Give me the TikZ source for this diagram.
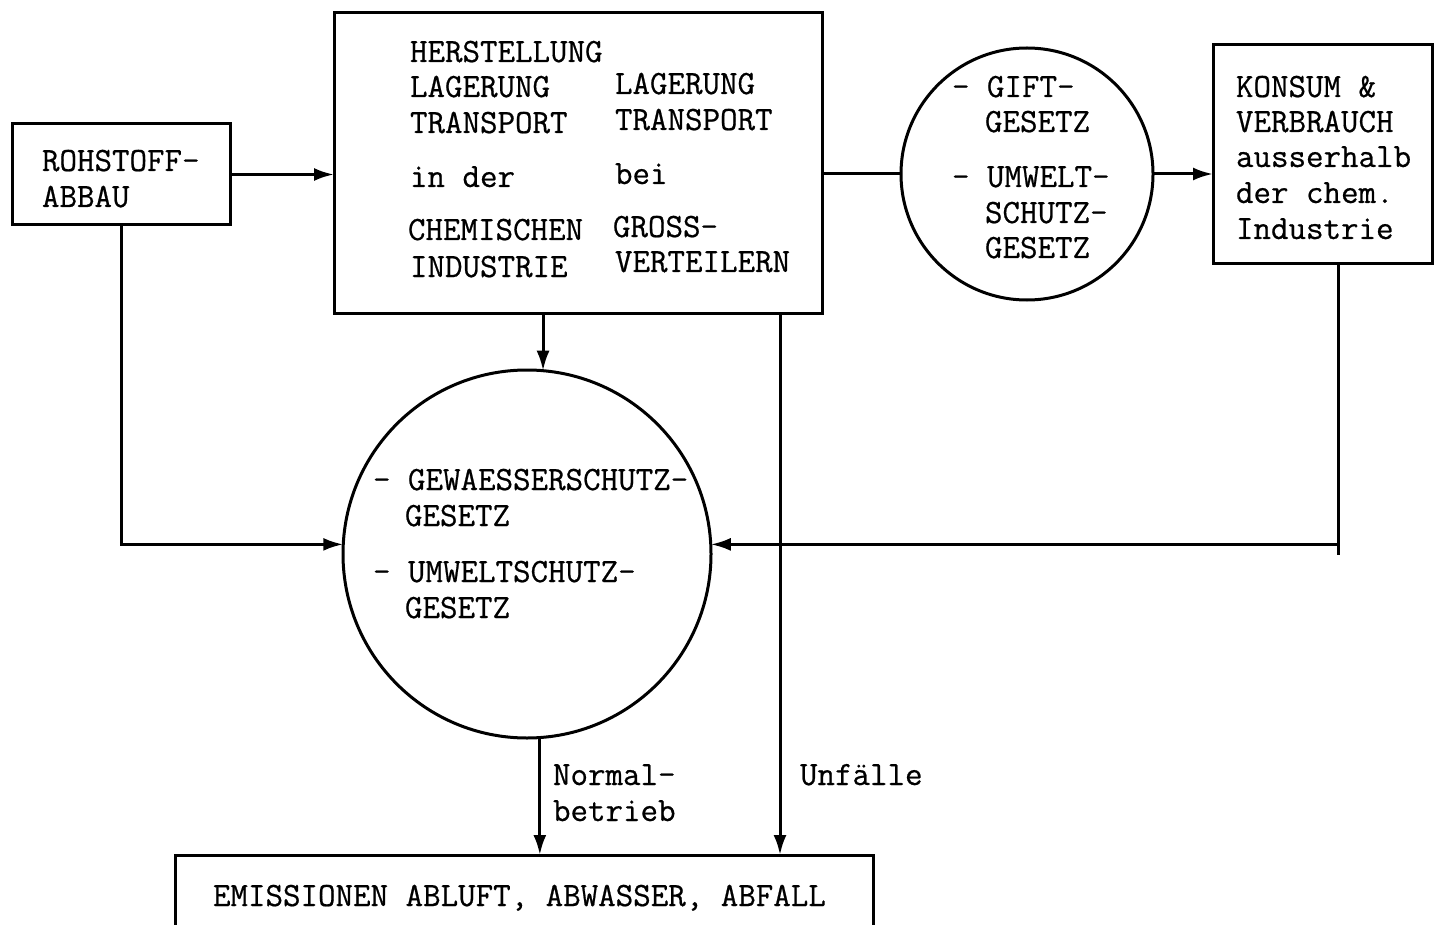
\documentclass[tikz,border=0pt]{standalone}
\usepackage{fontspec}
\newfontfamily\tw{Latin Modern Mono}[FakeBold=0.6]
\usetikzlibrary{arrows.meta}
\tikzset{
  line/.style={line width=3pt},
  arr/.style={line width=3pt,-{Latex[length=20pt,width=13pt]}},
  boxnode/.style={draw,line width=3pt,rectangle,inner sep=0pt,outer sep=0pt},
  circnode/.style={draw,line width=3pt,circle,inner sep=0pt,outer sep=0pt},
  txt/.style={anchor=base west,inner sep=0pt,outer sep=0pt,font=\tw\fontsize{34}{36}\selectfont}
}
\begin{document}
\begin{tikzpicture}[x=1pt,y=-1pt]
\useasboundingbox[fill=white] (0,0) rectangle (1439,925);

% boxes and circles
\node[boxnode,minimum width=218pt,minimum height=101pt] (rohstoff) at (121,174.5) {};
\node[boxnode,minimum width=488pt,minimum height=300pt] (main) at (578,163) {};
\node[boxnode,minimum width=219pt,minimum height=218pt] (konsum) at (1322.5,154) {};
\node[boxnode,minimum width=698pt,minimum height=90pt] (emission) at (524,900) {};
\node[circnode,minimum size=252pt] (gift) at (1027,174) {};
\node[circnode,minimum size=368pt] (big) at (527,554) {};

% texts
\node[txt] (t1) at (42,171) {ROHSTOFF-};
\node[txt] (t2) at (42,207) {ABBAU};

\node[txt] (m1) at (410,62) {HERSTELLUNG};
\node[txt] (m2) at (410,97) {LAGERUNG};
\node[txt] (m3) at (410,133) {TRANSPORT};
\node[txt] (m4) at (410,187) {in der};
\node[txt] (m5) at (408,240) {CHEMISCHEN};
\node[txt] (m6) at (410,277) {INDUSTRIE};
\node[txt] (r1) at (615,94) {LAGERUNG};
\node[txt] (r2) at (615,130) {TRANSPORT};
\node[txt] (r3) at (615,184) {bei};
\node[txt] (r4) at (613,237) {GROSS-};
\node[txt] (r5) at (615,272) {VERTEILERN};

\node[txt] (g1) at (952,97) {- GIFT-};
\node[txt] (g2) at (985,132) {GESETZ};
\node[txt] (g3) at (952,187) {- UMWELT-};
\node[txt] (g4) at (985,223) {SCHUTZ-};
\node[txt] (g5) at (985,258) {GESETZ};

\node[txt] (k1) at (1236,97) {KONSUM \&};
\node[txt] (k2) at (1236,132) {VERBRAUCH};
\node[txt] (k3) at (1236,167) {ausserhalb};
\node[txt] (k4) at (1236,203) {der chem.};
\node[txt] (k5) at (1236,239) {Industrie};

\node[txt] (b1) at (373,490) {- GEWAESSERSCHUTZ-};
\node[txt] (b2) at (405,526) {GESETZ};
\node[txt] (b3) at (373,582) {- UMWELTSCHUTZ-};
\node[txt] (b4) at (405,618) {GESETZ};

\node[txt] (n1) at (553,785) {Normal-};
\node[txt] (n2) at (553,821) {betrieb};
\node[txt] (u1) at (800,785) {Unfälle};

\node[txt] (e1) at (213,906) {EMISSIONEN ABLUFT, ABWASSER, ABFALL};

% helper coordinates
\coordinate (ux) at (780,0);
\coordinate (kx) at (1338,0);
\coordinate (kend) at (1338,555);

% connectors
\draw[arr] (rohstoff.east) -- (main.west |- rohstoff.east);
\draw[line] (main.east |- gift.west) -- (gift.west);
\draw[arr] (gift.east) -- (gift.east -| konsum.west);
\draw[arr] (rohstoff.south) |- (big.177);
\draw[arr] (main.south -| big.85.3) -- (big.85.3);
\draw[line] (konsum.south -| kx) -- (kend);
\draw[arr] (big.3 -| kx) -- (big.3);
\draw[arr] (main.south -| ux) -- (emission.north -| ux);
\draw[arr] (big.-86) -- (big.-86 |- emission.north);
\end{tikzpicture}
\end{document}
